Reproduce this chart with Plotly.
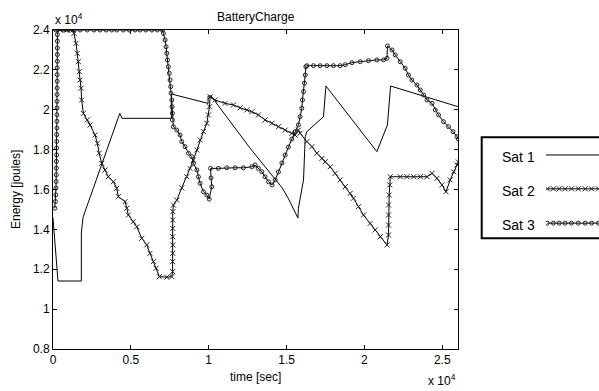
import plotly.graph_objects as go

# values in units of 1e4 (as displayed with the "x 10^4" multipliers)
sat1_t = [0.000, 0.032, 0.182, 0.182, 0.193, 0.429, 0.443, 0.760, 0.760, 0.996, 0.996, 1.015,
          1.266, 1.472, 1.510, 1.573, 1.576, 1.598, 1.609, 1.620, 1.630, 1.737, 1.744, 1.753,
          2.080, 2.148, 2.168, 2.603]
sat1_e = [1.457, 1.141, 1.141, 1.382, 1.461, 1.982, 1.957, 1.957, 2.079, 2.032, 2.070, 2.069,
          1.807, 1.608, 1.557, 1.457, 1.506, 1.589, 1.648, 1.865, 1.890, 1.965, 2.049, 2.119,
          1.790, 1.924, 2.119, 2.015]

sat2_t = [0.000, 0.045, 0.090, 0.128, 0.135, 0.148, 0.156, 0.163, 0.169, 0.174, 0.180, 0.184,
          0.195, 0.220, 0.238, 0.270, 0.285, 0.296, 0.313, 0.334, 0.355, 0.388, 0.409, 0.420,
          0.463, 0.474, 0.484, 0.516, 0.538, 0.570, 0.602, 0.623, 0.645, 0.662, 0.683, 0.731,
          0.763, 0.768, 0.768, 0.769, 0.769, 0.769, 0.769, 0.769, 0.769, 0.773, 0.795, 0.827,
          0.859, 0.880, 0.902, 0.924, 0.945, 0.966, 0.988, 0.998, 1.005, 1.009, 1.041, 1.105,
          1.159, 1.202, 1.245, 1.277, 1.319, 1.362, 1.406, 1.448, 1.491, 1.534, 1.555, 1.576,
          1.587, 1.630, 1.663, 1.695, 1.727, 1.748, 1.780, 1.812, 1.844, 1.877, 1.909, 1.930,
          1.962, 1.994, 2.037, 2.069, 2.102, 2.145, 2.155, 2.155, 2.155, 2.155, 2.159, 2.163,
          2.166, 2.230, 2.273, 2.316, 2.359, 2.402, 2.434, 2.466, 2.498, 2.524, 2.551, 2.573,
          2.595, 2.603]
sat2_e = [2.400, 2.400, 2.400, 2.400, 2.383, 2.333, 2.283, 2.241, 2.191, 2.149, 2.108, 2.049,
          1.982, 1.949, 1.924, 1.873, 1.832, 1.782, 1.731, 1.698, 1.664, 1.639, 1.606, 1.564,
          1.539, 1.506, 1.472, 1.438, 1.413, 1.355, 1.322, 1.280, 1.238, 1.205, 1.163, 1.160,
          1.163, 1.188, 1.238, 1.280, 1.322, 1.363, 1.405, 1.447, 1.489, 1.522, 1.547, 1.608,
          1.664, 1.706, 1.748, 1.798, 1.848, 1.890, 1.932, 1.974, 2.015, 2.065, 2.049, 2.032,
          2.024, 2.010, 1.999, 1.990, 1.974, 1.949, 1.932, 1.915, 1.898, 1.882, 1.873, 1.898,
          1.882, 1.840, 1.815, 1.782, 1.756, 1.739, 1.714, 1.681, 1.648, 1.614, 1.581, 1.556,
          1.514, 1.472, 1.430, 1.397, 1.363, 1.322, 1.372, 1.422, 1.472, 1.522, 1.572, 1.623,
          1.664, 1.664, 1.664, 1.664, 1.664, 1.664, 1.681, 1.656, 1.623, 1.589, 1.648, 1.689,
          1.723, 1.738]

sat3_t = [0.012, 0.016, 0.018, 0.019, 0.020, 0.021, 0.022, 0.022, 0.023, 0.023, 0.024, 0.024,
          0.025, 0.025, 0.025, 0.026, 0.026, 0.026, 0.027, 0.027, 0.027, 0.027, 0.028, 0.028,
          0.028, 0.028, 0.028, 0.028,
          0.066, 0.098, 0.130, 0.174, 0.220, 0.264, 0.302, 0.341, 0.377, 0.409, 0.452, 0.490,
          0.527, 0.559, 0.596, 0.634, 0.670, 0.703,
          0.709, 0.720, 0.726, 0.731, 0.735, 0.741, 0.747, 0.752, 0.756, 0.758, 0.763, 0.765,
          0.767, 0.767, 0.773, 0.795, 0.816, 0.827, 0.848, 0.870, 0.891, 0.902, 0.924, 0.934,
          0.945, 0.966, 0.988, 1.003, 1.020, 1.015, 1.012, 1.062, 1.116, 1.170, 1.223, 1.277,
          1.298, 1.319, 1.341, 1.362, 1.384, 1.407, 1.427, 1.448, 1.470, 1.491, 1.512, 1.534,
          1.555, 1.576, 1.587, 1.598, 1.602, 1.609, 1.615, 1.620, 1.624, 1.630, 1.673, 1.716,
          1.759, 1.801, 1.844, 1.877, 1.920, 1.973, 2.026, 2.080, 2.123, 2.145, 2.148, 2.177,
          2.198, 2.230, 2.262, 2.283, 2.305, 2.337, 2.359, 2.380, 2.402, 2.434, 2.455, 2.476,
          2.508, 2.540, 2.569, 2.595, 2.603]
sat3_e = [1.506, 1.540, 1.573, 1.607, 1.640, 1.674, 1.707, 1.741, 1.774, 1.808, 1.841, 1.875,
          1.908, 1.942, 1.975, 2.009, 2.042, 2.076, 2.109, 2.143, 2.176, 2.210, 2.243, 2.277,
          2.310, 2.344, 2.377, 2.400,
          2.400, 2.400, 2.400, 2.400, 2.400, 2.400, 2.400, 2.400, 2.400, 2.400, 2.400, 2.400,
          2.400, 2.400, 2.400, 2.400, 2.400, 2.400,
          2.383, 2.350, 2.316, 2.283, 2.250, 2.216, 2.183, 2.149, 2.116, 2.083, 2.049, 2.015,
          1.982, 1.949, 1.915, 1.898, 1.873, 1.840, 1.815, 1.782, 1.765, 1.731, 1.698, 1.664,
          1.631, 1.589, 1.572, 1.552, 1.614, 1.658, 1.706, 1.706, 1.709, 1.709, 1.709, 1.714,
          1.723, 1.706, 1.689, 1.664, 1.639, 1.623, 1.648, 1.688, 1.733, 1.773, 1.813, 1.853,
          1.890, 1.924, 1.965, 2.007, 2.049, 2.091, 2.133, 2.174, 2.216, 2.221, 2.221, 2.221,
          2.221, 2.221, 2.221, 2.226, 2.236, 2.241, 2.246, 2.250, 2.250, 2.258, 2.320, 2.300,
          2.275, 2.241, 2.208, 2.174, 2.149, 2.124, 2.099, 2.074, 2.049, 2.032, 1.999, 1.974,
          1.940, 1.915, 1.890, 1.865, 1.853]

x_ticks = [0, 0.5, 1, 1.5, 2, 2.5]
x_tick_labels = ["0", "0.5", "1", "1.5", "2", "2.5"]
y_ticks = [0.8, 1.0, 1.2, 1.4, 1.6, 1.8, 2.0, 2.2, 2.4]
y_tick_labels = ["0.8", "1", "1.2", "1.4", "1.6", "1.8", "2", "2.2", "2.4"]
series_names = ["Sat 1", "Sat 2", "Sat 3"]

FONT = "Liberation Sans, Arial, sans-serif"
W, H = 599, 391
ML, MR, MT, MB = 53, 0, 30, 42
PW = W - ML - MR
PH = H - MT - MB
x_dom_end = 405.3 / PW


def px2paper_x(px):
    return (px - ML) / PW


def px2paper_y(py):
    return (H - MB - py) / PH


MK2 = dict(symbol="x-thin-open", size=5, color="#222", line=dict(color="#222", width=1))
MK3 = dict(symbol="circle-open", size=4, color="#222", line=dict(color="#222", width=1))

fig = go.Figure()
fig.add_trace(go.Scatter(x=sat1_t, y=sat1_e, mode="lines", name=series_names[0],
                         line=dict(color="black", width=1), showlegend=False))
fig.add_trace(go.Scatter(x=sat2_t, y=sat2_e, mode="lines+markers", name=series_names[1],
                         line=dict(color="black", width=1), marker=MK2, showlegend=False))
fig.add_trace(go.Scatter(x=sat3_t, y=sat3_e, mode="lines+markers", name=series_names[2],
                         line=dict(color="black", width=1), marker=MK3, showlegend=False))

# legend samples drawn on an overlay axis
leg_rows = [0.825, 0.49, 0.15]
samp_x = [0.025, 0.14, 0.25, 0.36, 0.48, 0.61, 0.74, 0.86, 0.99, 1.1]
fig.add_trace(go.Scatter(x=[0, 1.2], y=[leg_rows[0]] * 2, mode="lines", xaxis="x2", yaxis="y2",
                         line=dict(color="black", width=1), showlegend=False, hoverinfo="skip"))
fig.add_trace(go.Scatter(x=samp_x, y=[leg_rows[1]] * len(samp_x), mode="lines+markers",
                         xaxis="x2", yaxis="y2", line=dict(color="black", width=1),
                         marker=MK2, showlegend=False, hoverinfo="skip"))
fig.add_trace(go.Scatter(x=samp_x, y=[leg_rows[2]] * len(samp_x), mode="lines+markers",
                         xaxis="x2", yaxis="y2", line=dict(color="black", width=1),
                         marker=MK3, showlegend=False, hoverinfo="skip"))

axis_common = dict(showline=True, linecolor="black", linewidth=1, mirror="ticks",
                   ticks="inside", ticklen=4, tickcolor="black", showgrid=False,
                   zeroline=False, tickfont=dict(family=FONT, size=12, color="black"))

fig.update_layout(
    width=W, height=H, margin=dict(l=ML, r=MR, t=MT, b=MB),
    paper_bgcolor="white", plot_bgcolor="white",
    font=dict(family=FONT, size=12, color="black"),
    xaxis=dict(domain=[0, x_dom_end], range=[0, 2.603], tickvals=x_ticks,
               ticktext=x_tick_labels, **axis_common),
    yaxis=dict(range=[0.8, 2.4], tickvals=y_ticks, ticktext=y_tick_labels, **axis_common),
    xaxis2=dict(domain=[px2paper_x(546), 1], range=[0, 1], visible=False, anchor="y2"),
    yaxis2=dict(domain=[px2paper_y(238.3), px2paper_y(137.3)], range=[0, 1], visible=False,
                anchor="x2"),
    hovermode=False,
)

leg_left = px2paper_x(481.7)
fig.add_shape(type="rect", xref="paper", yref="paper", x0=leg_left, x1=1.1,
              y0=px2paper_y(238.3), y1=px2paper_y(137.3), line=dict(color="black", width=2))

leg_text_y = [156.5, 190.5, 224.5]
for name, py in zip(series_names, leg_text_y):
    fig.add_annotation(text=name, xref="paper", yref="paper", x=px2paper_x(500),
                       y=px2paper_y(py), xanchor="left", yanchor="middle", showarrow=False,
                       font=dict(family=FONT, size=14, color="black"))

fig.add_annotation(text="BatteryCharge", xref="paper", yref="paper", x=x_dom_end / 2,
                   y=px2paper_y(17), xanchor="center", yanchor="middle", showarrow=False,
                   font=dict(family=FONT, size=12, color="black"))
fig.add_annotation(text="time [sec]", xref="paper", yref="paper", x=x_dom_end / 2,
                   y=px2paper_y(376.5), xanchor="center", yanchor="middle", showarrow=False,
                   font=dict(family=FONT, size=12, color="black"))
fig.add_annotation(text="Energy [joules]", xref="paper", yref="paper", x=px2paper_x(16),
                   y=px2paper_y(190), xanchor="center", yanchor="middle", textangle=-90,
                   showarrow=False, font=dict(family=FONT, size=12, color="black"))
fig.add_annotation(text="x 10<sup>4</sup>", xref="paper", yref="paper", x=0,
                   y=px2paper_y(19), xanchor="left", yanchor="middle", showarrow=False,
                   font=dict(family=FONT, size=12, color="black"))
fig.add_annotation(text="x 10<sup>4</sup>", xref="paper", yref="paper", x=px2paper_x(458),
                   y=px2paper_y(380), xanchor="right", yanchor="middle", showarrow=False,
                   font=dict(family=FONT, size=12, color="black"))

fig.write_html("out.html", config={"displayModeBar": False},
               post_script="document.body.style.margin='0';")
